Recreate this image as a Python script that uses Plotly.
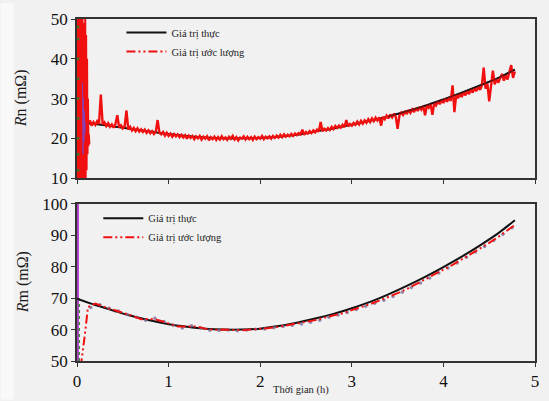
import plotly.graph_objects as go

# ---------------- data ----------------
# Top panel: Rn (mOhm) - true value
rn_true_x = [0.0, 0.2, 0.4, 0.6, 0.8, 1.0, 1.2, 1.4, 1.6, 1.8, 2.0, 2.2, 2.4, 2.6, 2.8,
             3.0, 3.2, 3.4, 3.6, 3.8, 4.0, 4.2, 4.4, 4.6, 4.78]
rn_true_y = [24.0, 23.6, 23.0, 22.3, 21.7, 21.1, 20.6, 20.2, 20.0, 20.0, 20.1, 20.4, 20.9, 21.7, 22.5,
             23.4, 24.4, 25.5, 26.8, 28.2, 29.8, 31.5, 33.3, 35.2, 37.3]

# initial oscillation of the estimator (sampled every 0.005 h from 0)
rn_init_x = [0.0, 0.005, 0.01, 0.015, 0.02, 0.025, 0.03, 0.035, 0.04, 0.045, 0.05, 0.055, 0.06,
             0.065, 0.07, 0.075, 0.08, 0.085, 0.09, 0.095, 0.1, 0.105, 0.11, 0.115, 0.12, 0.125,
             0.13, 0.135]
rn_init_y = [55, 5, 48, 8, 52, 12, 47, 6, 50, 15, 45, 9, 53, 11, 49, 7, 44, 14, 51, 10, 46, 12,
             40, 16, 30, 18, 21, 18.5]

# estimated value, sampled every 0.02 h from 0.14 h
rn_est_t0 = 0.14
rn_est_dt = 0.02
rn_est_y = [
    24.6, 23.2, 24.1, 23.4, 24.3, 23.6, 31.0, 23.5, 24.0, 23.1,
    23.8, 22.9, 23.5, 22.7, 23.6, 25.8, 22.8, 23.3, 22.5, 23.0,
    27.0, 22.2, 22.9, 22.0, 22.6, 21.8, 22.5, 21.7, 22.3, 21.6,
    22.2, 21.4, 22.0, 21.3, 21.8, 21.1, 21.7, 24.6, 21.4, 21.0,
    21.6, 20.7, 21.4, 20.6, 21.2, 20.4, 21.1, 20.5, 21.0, 20.3,
    20.9, 20.2, 20.8, 19.9, 20.7, 20.1, 20.6, 19.8, 20.5, 20.0,
    20.6, 19.7, 20.4, 19.9, 20.5, 19.5, 20.3, 19.8, 20.4, 19.6,
    20.3, 19.7, 20.5, 19.8, 20.2, 19.6, 20.4, 19.9, 20.6, 19.7,
    20.3, 19.5, 20.2, 19.9, 20.5, 19.7, 20.4, 19.8, 20.3, 19.6,
    20.4, 19.8, 20.3, 19.9, 20.6, 19.8, 20.4, 20.0, 20.5, 19.9,
    20.6, 20.1, 20.7, 20.2, 20.9, 20.3, 21.0, 20.4, 20.9, 20.5,
    21.1, 20.6, 21.2, 20.8, 21.3, 21.0, 22.2, 20.9, 21.6, 21.2,
    21.8, 21.3, 22.0, 21.5, 22.2, 21.7, 24.1, 21.8, 22.4, 22.0,
    22.6, 22.1, 22.9, 22.3, 23.1, 22.6, 23.2, 22.7, 23.4, 22.8,
    24.6, 23.0, 23.6, 23.2, 23.9, 23.4, 24.2, 23.5, 24.4, 23.7,
    24.5, 23.9, 24.8, 24.1, 25.0, 24.3, 25.2, 24.5, 25.3, 23.2,
    25.4, 24.8, 25.7, 25.0, 26.0, 25.3, 26.2, 25.4, 22.4, 25.8,
    26.5, 25.9, 26.9, 26.1, 27.1, 26.4, 27.3, 26.6, 27.6, 26.9,
    27.9, 27.2, 28.1, 25.8, 28.4, 27.7, 28.6, 25.9, 28.9, 28.3,
    29.3, 28.6, 29.6, 28.9, 30.0, 29.2, 30.3, 29.4, 33.3, 26.6,
    30.9, 30.1, 31.2, 30.4, 31.6, 30.8, 31.9, 31.1, 32.3, 31.5,
    32.6, 31.9, 33.0, 32.2, 33.3, 37.8, 32.5, 33.8, 29.3, 34.0,
    37.0, 33.6, 34.9, 34.0, 35.3, 36.2, 34.5, 35.8, 34.8, 36.4,
    38.4, 35.2, 36.8,
]
rn_est_x = [round(rn_est_t0 + rn_est_dt * i, 3) for i in range(len(rn_est_y))]

rn_purple_x = [0.06, 0.065, 0.07, 0.075, 0.08, 0.085, 0.09]
rn_purple_y = [34, 16, 30, 19, 27, 21, 24]
rn_green_x = [0.012, 0.012, 0.012, 0.012, 0.012, 0.012, 0.012, 0.012, 0.012]
rn_green_y = [12, 16, 20, 25, 30, 35, 40, 45, 48]

# Bottom panel: Rm (mOhm)
rm_true_x = [0.0, 0.2, 0.4, 0.6, 0.8, 1.0, 1.2, 1.4, 1.6, 1.8, 2.0, 2.2, 2.4, 2.6, 2.8,
             3.0, 3.2, 3.4, 3.6, 3.8, 4.0, 4.2, 4.4, 4.6, 4.78]
rm_true_y = [69.8, 67.8, 66.0, 64.3, 62.9, 61.7, 60.9, 60.3, 60.0, 60.0, 60.3, 61.1, 62.2, 63.5,
             65.0, 66.8, 68.8, 71.2, 73.9, 76.8, 79.9, 83.2, 86.8, 90.7, 94.8]

rm_est_x = [0.04, 0.06, 0.08, 0.10, 0.12, 0.15, 0.2, 0.3, 0.4, 0.5, 0.6, 0.7, 0.8, 0.9, 1.0,
            1.1, 1.2, 1.3, 1.4, 1.5, 1.6, 1.7, 1.8, 1.9, 2.0, 2.1, 2.2, 2.3, 2.4, 2.5, 2.6,
            2.7, 2.8, 2.9, 3.0, 3.1, 3.2, 3.3, 3.4, 3.5, 3.6, 3.7, 3.8, 3.9, 4.0, 4.1, 4.2,
            4.3, 4.4, 4.5, 4.6, 4.7, 4.78]
rm_est_y = [48.0, 52.0, 57.0, 62.0, 67.2, 67.5, 68.3, 67.2, 66.3, 65.4, 64.4, 63.3, 63.4, 62.9,
            62.0, 61.0, 61.0, 61.0, 60.3, 59.9, 60.0, 59.8, 59.8, 60.0, 60.2, 60.5, 60.9, 61.4,
            61.8, 62.4, 63.0, 63.8, 64.5, 65.2, 66.2, 67.1, 68.1, 69.2, 70.3, 71.6, 72.9, 74.4,
            75.9, 77.4, 78.9, 80.6, 82.3, 84.0, 85.7, 87.6, 89.5, 91.5, 93.3]

rm_other_x = [0.15, 0.25, 0.35, 0.45, 0.55, 0.65, 0.75, 0.85, 0.95, 1.05, 1.15, 1.25, 1.35,
              1.45, 1.55, 1.65, 1.75, 1.85, 1.95, 2.05, 2.15, 2.25, 2.35, 2.45, 2.55, 2.65,
              2.75, 2.85, 2.95, 3.05, 3.15, 3.25, 3.35, 3.45, 3.55, 3.65, 3.75, 3.85, 3.95,
              4.05, 4.15, 4.25, 4.35, 4.45, 4.55, 4.65, 4.75]
rm_other_y = [67.0, 67.9, 66.8, 65.9, 64.8, 63.9, 63.0, 63.6, 62.6, 61.4, 60.5, 61.2, 60.5,
              59.8, 59.7, 59.9, 59.6, 59.9, 60.1, 60.2, 60.6, 61.0, 61.4, 61.8, 62.3, 63.0,
              63.9, 64.6, 65.4, 66.4, 67.4, 68.4, 69.3, 70.5, 71.9, 73.4, 74.8, 76.4, 78.0,
              79.6, 81.2, 83.0, 84.7, 86.4, 88.3, 90.3, 92.4]

rm_purple_x = [0.01, 0.01]
rm_purple_y = [50, 100]
rm_green_x = [0.025, 0.025]
rm_green_y = [50, 70]

x_ticks = [0, 1, 2, 3, 4, 5]
legend_labels = ["Giá trị thực", "Giá trị ước lượng"]

RED = "#f01010"
BLACK = "#111111"
DASH = "9px,3px,2px,3px,2px,3px"
SERIF = "Liberation Serif"

fig = go.Figure()

# ---- top panel ----
fig.add_trace(go.Scatter(x=rn_true_x, y=rn_true_y, mode="lines", line=dict(color=BLACK, width=2, shape="spline"),
                         showlegend=False, xaxis="x", yaxis="y"))
fig.add_trace(go.Scatter(x=rn_init_x, y=rn_init_y, mode="lines", line=dict(color=RED, width=2),
                         showlegend=False, xaxis="x", yaxis="y"))
fig.add_trace(go.Scatter(x=rn_green_x, y=rn_green_y, mode="markers", marker=dict(color="#4f6b2a", size=3),
                         showlegend=False, xaxis="x", yaxis="y"))
fig.add_trace(go.Scatter(x=rn_purple_x, y=rn_purple_y, mode="lines", line=dict(color="#8a3fb0", width=1),
                         showlegend=False, xaxis="x", yaxis="y"))
fig.add_trace(go.Scatter(x=rn_est_x, y=rn_est_y, mode="lines", line=dict(color=RED, width=2.4),
                         showlegend=False, xaxis="x", yaxis="y"))
fig.add_trace(go.Scatter(x=rn_true_x[-8:], y=rn_true_y[-8:], mode="lines",
                         line=dict(color=BLACK, width=1.5, shape="spline"), opacity=0.55,
                         showlegend=False, xaxis="x", yaxis="y"))
# legend entries (top)
fig.add_trace(go.Scatter(x=[None], y=[None], mode="lines", line=dict(color=BLACK, width=2),
                         name=legend_labels[0], legend="legend", xaxis="x", yaxis="y"))
fig.add_trace(go.Scatter(x=[None], y=[None], mode="lines", line=dict(color=RED, width=2, dash=DASH),
                         name=legend_labels[1], legend="legend", xaxis="x", yaxis="y"))

# ---- bottom panel ----
fig.add_trace(go.Scatter(x=rm_purple_x, y=rm_purple_y, mode="lines", line=dict(color="#b03cc8", width=2),
                         showlegend=False, xaxis="x2", yaxis="y2"))
fig.add_trace(go.Scatter(x=rm_green_x, y=rm_green_y, mode="lines", line=dict(color="#3f8a3f", width=1.5, dash="dot"),
                         showlegend=False, xaxis="x2", yaxis="y2"))
fig.add_trace(go.Scatter(x=rm_true_x, y=rm_true_y, mode="lines", line=dict(color=BLACK, width=2, shape="spline"),
                         name=legend_labels[0], legend="legend2", xaxis="x2", yaxis="y2"))
fig.add_trace(go.Scatter(x=rm_other_x, y=rm_other_y, mode="markers",
                         marker=dict(color="#7a6f98", size=3.5, opacity=0.8),
                         showlegend=False, xaxis="x2", yaxis="y2"))
fig.add_trace(go.Scatter(x=rm_est_x, y=rm_est_y, mode="lines", line=dict(color=RED, width=2, dash=DASH),
                         name=legend_labels[1], legend="legend2", xaxis="x2", yaxis="y2"))

axis_common = dict(showline=True, linecolor="#333333", linewidth=1.5, mirror=True,
                   ticks="outside", ticklen=4, tickwidth=1.2, tickcolor="#333333",
                   showgrid=False, zeroline=False,
                   tickfont=dict(family=SERIF, size=17, color="#111111"))

legend_font = dict(family=SERIF, size=10.5, color="#222")

fig.update_layout(
    width=549, height=401,
    margin=dict(l=77, r=10, t=16, b=39),
    paper_bgcolor="#f1f1f1", plot_bgcolor="#f1f1f1",
    xaxis=dict(domain=[0, 1], range=[0, 5], tickvals=x_ticks, showticklabels=False, anchor="y", **axis_common),
    yaxis=dict(domain=[0.5347, 1.0], range=[10, 50], dtick=10, anchor="x", **axis_common),
    xaxis2=dict(domain=[0, 1], range=[0, 5], tickvals=x_ticks, anchor="y2", **axis_common),
    yaxis2=dict(domain=[0, 0.4595], range=[50, 100], dtick=10, anchor="x2", **axis_common),
    legend=dict(x=0.097, y=1.003, xanchor="left", yanchor="top", bgcolor="rgba(0,0,0,0)",
                font=legend_font, tracegroupgap=0, itemwidth=40),
    legend2=dict(x=0.0465, y=0.46, xanchor="left", yanchor="top", bgcolor="rgba(0,0,0,0)",
                 font=legend_font, tracegroupgap=0, itemwidth=40),
    shapes=[dict(type="rect", xref="paper", yref="paper", x0=-77 / 462, x1=-64 / 462,
                 y0=-39 / 346, y1=362 / 346, fillcolor="#f9f9f9", line=dict(width=0), layer="below")],
    annotations=[
        dict(text="<i>R</i>n (mΩ)", textangle=-90, xref="paper", yref="paper",
             x=-0.123, y=0.7674, xanchor="center", yanchor="middle", showarrow=False,
             font=dict(family=SERIF, size=16, color="#1a1a1a")),
        dict(text="<i>R</i>m (mΩ)", textangle=-90, xref="paper", yref="paper",
             x=-0.116, y=0.2298, xanchor="center", yanchor="middle", showarrow=False,
             font=dict(family=SERIF, size=16, color="#1a1a1a")),
        dict(text="Thời gian (h)", xref="paper", yref="paper", x=0.489, y=-0.0838,
             xanchor="center", yanchor="middle", showarrow=False,
             font=dict(family=SERIF, size=10.5, color="#222")),
    ],
)

fig.write_html("out.html", config={"displayModeBar": False},
               post_script="document.body.style.margin='0';document.body.style.background='#f1f1f1';")
